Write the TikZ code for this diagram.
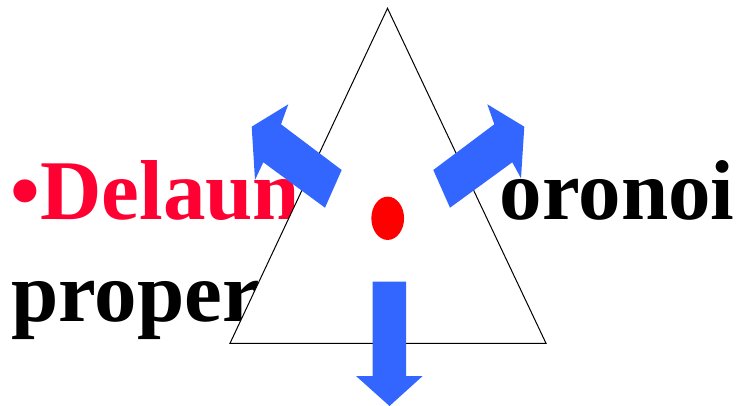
\documentclass[tikz,border=0pt]{standalone}
\usepackage{fontspec}
\setmainfont{Liberation Serif}
\usetikzlibrary{shapes.geometric}
\definecolor{arrowblue}{HTML}{3366FF}
\definecolor{textred}{HTML}{FF0033}
\begin{document}
\begin{tikzpicture}[x=1pt,y=-1pt,
  slidetext/.style={inner sep=0pt, anchor=base west, font=\fontsize{85}{92}\selectfont\bfseries},
  blockarrow/.style={fill=arrowblue, draw=none},
  tri/.style={fill=white, draw=black, line width=1pt, line join=miter},
]
\useasboundingbox (0,0) rectangle (738,406);
% text lines
\node[slidetext, text=textred] (line1) at (10.5,219) {•Delaun};
\node[slidetext, text=black] (line1b) at (499.6,219.5) {oronoi};
\node[slidetext, text=black] (line2) at (11.1,321.7) {proper};
% triangle
\coordinate (apex) at (387.5,8.3);
\coordinate (bl) at (230,343.3);
\coordinate (br) at (546,343.3);
\draw[tri] (apex) -- (bl) -- (br) -- cycle;
% red dot
\node[ellipse, fill=red, draw=none, inner sep=0pt, minimum width=32.7pt, minimum height=43.3pt] (dot) at (387.7,218.3) {};
% left arrow
\fill[blockarrow] (251.7,126.7) -- (288.3,104.3) -- (281,124.3) -- (341.7,170) -- (325,207.7) -- (263.3,162.3) -- (255,180) -- cycle;
% right arrow
\fill[blockarrow] (524.3,126.7) -- (487.3,104.3) -- (494.3,124.3) -- (433.3,170) -- (450,207.7) -- (512.3,162.3) -- (521,178.3) -- cycle;
% down arrow
\fill[blockarrow] (372.7,281.7) -- (406,281.7) -- (406,376) -- (422.7,376) -- (389.5,406) -- (356,376) -- (372.7,376) -- cycle;
\end{tikzpicture}
\end{document}
